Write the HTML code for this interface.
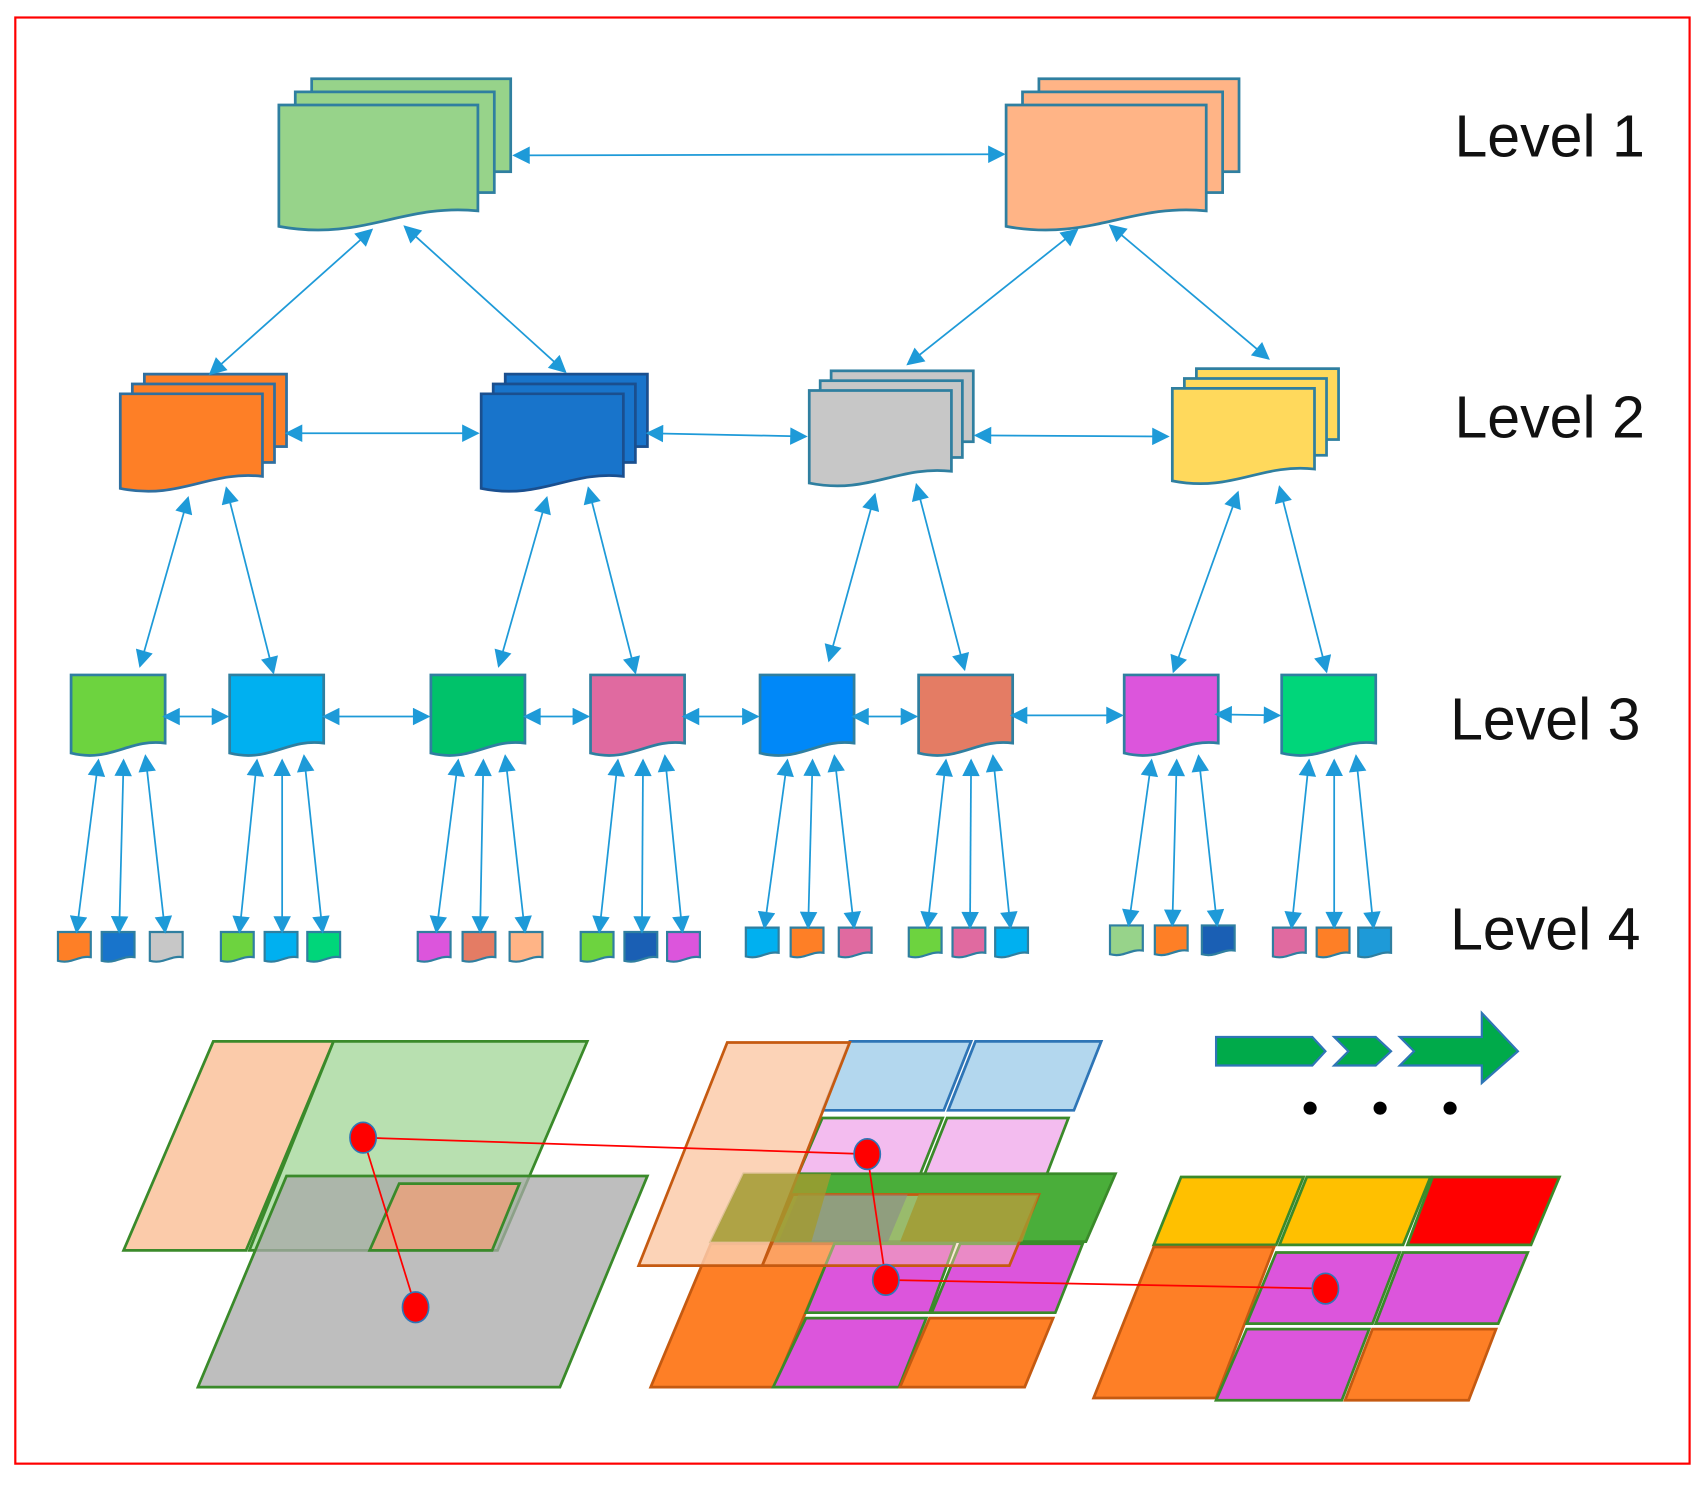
<!DOCTYPE html>
<html><head><meta charset="utf-8"><style>
html,body{margin:0;padding:0;background:#fff;width:1706px;height:1491px;overflow:hidden}
svg{display:block}
text{font-family:"Liberation Sans",sans-serif;font-size:54px;fill:#111}
</style></head><body>
<svg width="1706" height="1491" viewBox="0 0 1560 1363" preserveAspectRatio="none" xmlns="http://www.w3.org/2000/svg">
<defs>
<marker id="a2" viewBox="0 0 10 10" refX="9" refY="5" markerWidth="18" markerHeight="16" markerUnits="userSpaceOnUse" orient="auto-start-reverse">
<path d="M0,0 L10,5 L0,10 z" fill="#1E9AD8"/></marker>
</defs>
<rect x="14" y="16" width="1531" height="1322" fill="none" stroke="#f00" stroke-width="2"/>
<script>
(function(){
var NS="http://www.w3.org/2000/svg",svg=document.querySelector('svg');
function el(t,a){var e=document.createElementNS(NS,t);for(var k in a)e.setAttribute(k,a[k]);svg.appendChild(e);return e;}
function doc(x,y,w,h,fill,stroke,sw){
 var d="M"+x+","+y+" H"+(x+w)+" V"+(y+0.82*h)+" C"+(x+0.62*w)+","+(y+0.76*h)+" "+(x+0.42*w)+","+(y+1.06*h)+" "+x+","+(y+0.94*h)+" Z";
 el('path',{d:d,fill:fill,stroke:stroke,'stroke-width':sw||2.5});
}
function stack(x,y,w,h,dx,dy,fill,stroke){
 el('rect',{x:x+2*dx,y:y-2*dy,width:w,height:h*0.72,fill:fill,stroke:stroke,'stroke-width':2.5});
 el('rect',{x:x+dx,y:y-dy,width:w,height:h*0.78,fill:fill,stroke:stroke,'stroke-width':2.5});
 doc(x,y,w,h,fill,stroke);
}
function arr(x1,y1,x2,y2){
 el('line',{x1:x1,y1:y1,x2:x2,y2:y2,stroke:'#1E9AD8','stroke-width':1.6,'marker-start':'url(#a2)','marker-end':'url(#a2)'});
}
stack(255,96,182,118,15,12,'#97D38A','#2F7FA0');
stack(920,96,183,118,15,12,'#FFB486','#2F7FA0');
stack(110,360,130,92,11,9,'#FE7F26','#2F6FA0');
stack(440,360,130,92,11,9,'#1874CB','#1A4F8F');
stack(740,357,130,90,10,9,'#C7C7C7','#2F7FA0');
stack(1072,355,130,90,11,9,'#FFD95C','#2F7FA0');
var l3=[[65,'#6DD33F'],[210,'#00B0F0'],[394,'#00C26A'],[540,'#E06AA0'],[695,'#0088F8'],[840,'#E47C64'],[1028,'#DC55DC'],[1172,'#00D67A']];
l3.forEach(function(p){doc(p[0],617,86,76,p[1],'#2F7FA0');});
var l4=[[53,93,137],[202,242,281],[382,423,466],[531,571,610],[682,723,767],[831,871,910],[1015,1056,1099],[1164,1204,1242]];
var l4y=[852,852,852,852,848,848,846,848];
var c4=[['#FE7F26','#1874CB','#C7C7C7'],['#6DD33F','#00B0F0','#00D67A'],['#DC55DC','#E47C64','#FFB486'],['#6DD33F','#1A5FB4','#DC55DC'],['#00B0F0','#FE7F26','#E06AA0'],['#6DD33F','#E06AA0','#00B0F0'],['#97D38A','#FE7F26','#1A5FB4'],['#E06AA0','#FE7F26','#1E9AD8']];
l4.forEach(function(g,i){g.forEach(function(x,j){doc(x,l4y[i],30,28,c4[i][j],'#2F7FA0',2);});});
arr(470,142,918,141);
arr(340,210,192,342);arr(370,207,517,340);
arr(985,210,830,333);arr(1015,206,1160,328);
arr(262,396,437,396);arr(592,396,737,399);arr(892,398,1068,399);
arr(172,455,128,609);arr(207,446,250,615);
arr(500,455,456,609);arr(538,446,581,615);
arr(800,452,758,604);arr(838,443,882,612);
arr(1132,450,1073,614);arr(1170,445,1213,614);
arr(150,655,208,655);arr(296,655,392,655);arr(480,655,538,655);arr(625,655,693,655);arr(780,655,838,655);arr(925,654,1026,654);arr(1112,653,1170,654);
l3.forEach(function(p,i){var x=p[0],g=l4[i],y=l4y[i];
 arr(x+25,695,g[0]+17,y);arr(x+48,695,g[1]+16,y);arr(x+68,691,g[2]+14,y);});
})();
</script>

<text x="1330" y="143">Level 1</text>
<text x="1330" y="400">Level 2</text>
<text x="1326" y="676">Level 3</text>
<text x="1326" y="868">Level 4</text>

<g stroke="#3A8A2A" stroke-width="2.5">
<polygon points="195,952 305,952 225,1143 113,1143" fill="#FBCBAA"/>
<polygon points="305,952 537,952 455,1143 228,1143" fill="#B8E0B0"/>
<polygon points="262,1075 592,1075 512,1268 181,1268" fill="#A8A8A8" fill-opacity="0.75"/>
<polygon points="365,1082 475,1082 450,1143 338,1143" fill="#E0A584"/>
</g>
<g stroke-width="2.5">
<polygon points="777,952 888,952 863,1015 752,1015" fill="#B3D7EE" stroke="#2E75B6"/>
<polygon points="892,952 1007,952 982,1015 867,1015" fill="#B3D7EE" stroke="#2E75B6"/>
<polygon points="752,1022 862,1022 836,1087 724,1087" fill="#F3BCEF" stroke="#3A8A2A"/>
<polygon points="866,1022 977,1022 952,1087 840,1087" fill="#F3BCEF" stroke="#3A8A2A"/>
<polygon points="680,1073 1020,1073 993,1135 650,1135" fill="#4AAE3A" stroke="#3A8A2A"/>
<polygon points="650,1137 763,1137 708,1268 595,1268" fill="#FE7F26" stroke="#C55A11"/>
<polygon points="763,1137 873,1137 850,1200 737,1200" fill="#DC55DC" stroke="#3A8A2A"/>
<polygon points="878,1137 990,1137 965,1200 852,1200" fill="#DC55DC" stroke="#3A8A2A"/>
<polygon points="737,1205 847,1205 822,1268 707,1268" fill="#DC55DC" stroke="#3A8A2A"/>
<polygon points="850,1205 963,1205 937,1268 823,1268" fill="#FE7F26" stroke="#C55A11"/>
<polygon points="665,953 777,953 697,1157 584,1157" fill="#FBCBAA" fill-opacity="0.85" stroke="#C55A11"/>
<polygon points="725,1092 950,1092 923,1157 697,1157" fill="#FBCBAA" fill-opacity="0.45" stroke="#C55A11"/>
<polygon points="730,1092 830,1092 812,1135 712,1135" fill="#8A8A8A" fill-opacity="0.6" stroke="none"/>
<polygon points="840,1092 950,1092 935,1135 823,1135" fill="#A39A2F" fill-opacity="0.8" stroke="none"/>
<polygon points="680,1073 760,1073 742,1135 650,1135" fill="#A39A2F" fill-opacity="0.8" stroke="none"/>
</g>
<g stroke="#3A8A2A" stroke-width="2.5">
<polygon points="1080,1076 1192,1076 1167,1138 1055,1138" fill="#FFC000"/>
<polygon points="1195,1076 1308,1076 1283,1138 1170,1138" fill="#FFC000"/>
<polygon points="1310,1076 1426,1076 1400,1138 1287,1138" fill="#FF0000"/>
<polygon points="1055,1140 1165,1140 1112,1278 1000,1278" fill="#FE7F26" stroke="#C55A11"/>
<polygon points="1167,1145 1280,1145 1255,1210 1140,1210" fill="#DC55DC"/>
<polygon points="1283,1145 1397,1145 1370,1210 1258,1210" fill="#DC55DC"/>
<polygon points="1140,1215 1252,1215 1227,1280 1112,1280" fill="#DC55DC"/>
<polygon points="1255,1215 1368,1215 1343,1280 1230,1280" fill="#FE7F26" stroke="#C55A11"/>
</g>
<g stroke="#f00" stroke-width="1.6" fill="none">
<polyline points="332,1040 793,1055 810,1170 1212,1178"/>
<line x1="332" y1="1040" x2="380" y2="1195"/>
</g>
<g fill="#f00" stroke="#2E75B6" stroke-width="1.5">
<ellipse cx="332" cy="1040" rx="12" ry="14"/>
<ellipse cx="380" cy="1195" rx="12" ry="14"/>
<ellipse cx="793" cy="1055" rx="12" ry="14"/>
<ellipse cx="810" cy="1170" rx="12" ry="14"/>
<ellipse cx="1212" cy="1178" rx="12" ry="14"/>
</g>
<g fill="#00AA4A" stroke="#2E75B6" stroke-width="2">
<polygon points="1112,948 1200,948 1212,961 1200,974 1112,974"/>
<polygon points="1220,948 1258,948 1272,961 1258,974 1220,974 1233,961"/>
<polygon points="1280,948 1355,948 1355,926 1388,961 1355,990 1355,974 1280,974 1293,961"/>
</g>
<g fill="#000"><circle cx="1198" cy="1013" r="6"/><circle cx="1262" cy="1013" r="6"/><circle cx="1326" cy="1013" r="6"/></g>
</svg>
</body></html>
